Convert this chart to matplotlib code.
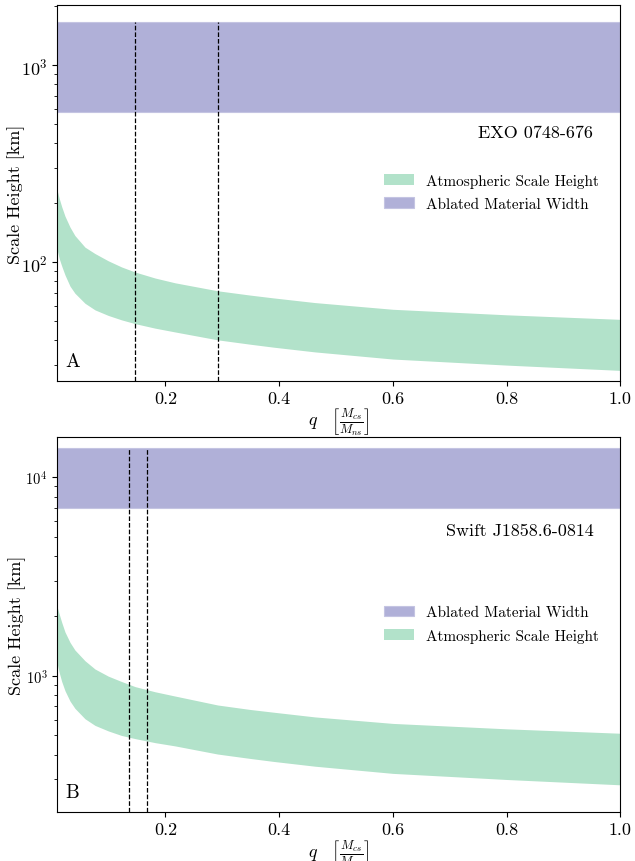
import matplotlib
matplotlib.use("Agg")
import matplotlib.pyplot as plt

plt.rcParams['font.family'] = 'serif'
plt.rcParams['font.serif'] = ['cmr10']
plt.rcParams['mathtext.fontset'] = 'cm'
plt.rcParams['axes.formatter.use_mathtext'] = True
plt.rcParams['axes.unicode_minus'] = False

# mass ratio grid
q = [0.01, 0.0135, 0.0178, 0.0236, 0.0324, 0.041, 0.0587, 0.0763, 0.0997,
     0.123, 0.147, 0.182, 0.217, 0.292, 0.349, 0.39, 0.463, 0.6, 0.8, 1.0]

# EXO 0748-676
exo_up = [230, 210, 191, 171, 150.5, 136.4, 119.1, 110.5, 101.5, 94.5, 89, 83,
          78.5, 71.5, 68, 65.8, 62.3, 57.6, 54.0, 51.2]
exo_lo = [114.5, 104, 95.5, 86, 75.5, 69.5, 61.8, 57.2, 53.6, 50.9, 48.7,
          46.2, 44.2, 40.3, 38.3, 37.0, 35.0, 32.2, 30.0, 28.2]
exo_abl = [575, 1660]
exo_q = [0.147, 0.292]

# Swift J1858.6-0814
swj_up = [2213, 2040, 1858, 1660, 1473, 1348, 1190, 1081, 995, 935, 881, 830,
          790, 712, 676, 655, 620, 575, 540, 513]
swj_lo = [1145, 1035, 935, 840, 745, 685, 607, 562, 527, 500, 482, 460, 443,
          403, 383, 370, 350, 322, 300, 282]
swj_abl = [6980, 14000]
swj_q = [0.136, 0.168]

green = '#b2e2ca'
purple = '#b0b0d8'

fig = plt.figure(figsize=(6.35, 8.62), dpi=100)
axA = fig.add_axes([0.0902, 0.5572, 0.8867, 0.4358])
axB = fig.add_axes([0.0902, 0.0565, 0.8867, 0.4350])


def panel(ax, up, lo, abl, qs, ylim, name, name_y, letter, order, ysize,
          ylab_x):
    ax.set_yscale('log')
    h1 = ax.fill_between(q, lo, up, color=green, lw=0,
                         label='Atmospheric Scale Height')
    h2 = ax.fill_between([0.01, 1.0], [abl[0]] * 2, [abl[1]] * 2,
                         facecolor=purple, edgecolor='#c4c4e2', lw=0.8,
                         label='Ablated Material Width')
    ax.vlines(qs, ylim[0], abl[1], colors='k', linestyles='--', lw=0.9)
    ax.set_xlim(0.01, 1.0)
    ax.set_ylim(*ylim)
    ax.set_xticks([0.2, 0.4, 0.6, 0.8, 1.0])
    ax.set_xticklabels(['0.2', '0.4', '0.6', '0.8', '1.0'])
    ax.tick_params(axis='x', labelsize=13)
    ax.tick_params(axis='y', labelsize=ysize)
    ax.set_ylabel('Scale Height [km]', fontsize=13)
    ax.yaxis.set_label_coords(ylab_x, 0.5)
    ax.set_xlabel(r'$q \quad \left[\frac{M_{cs}}{M_{ns}}\right]$',
                  fontsize=13, labelpad=0)
    ax.text(0.952, name_y, name, transform=ax.transAxes, ha='right',
            va='center', fontsize=13)
    ax.text(0.015, 0.053, letter, transform=ax.transAxes, ha='left',
            va='center', fontsize=14)
    hs = [h1, h2] if order == 0 else [h2, h1]
    ax.legend(handles=hs, loc='center left', bbox_to_anchor=(0.555, 0.502),
              frameon=False, fontsize=11, labelspacing=0.6)


panel(axA, exo_up, exo_lo, exo_abl, exo_q, (25, 2018), 'EXO 0748-676', 0.662,
      'A', 0, 13, -0.058)
panel(axB, swj_up, swj_lo, swj_abl, swj_q, (205, 15900), 'Swift J1858.6-0814',
      0.751, 'B', 1, 10.5, -0.055)

fig.savefig('out.png', dpi=100)
